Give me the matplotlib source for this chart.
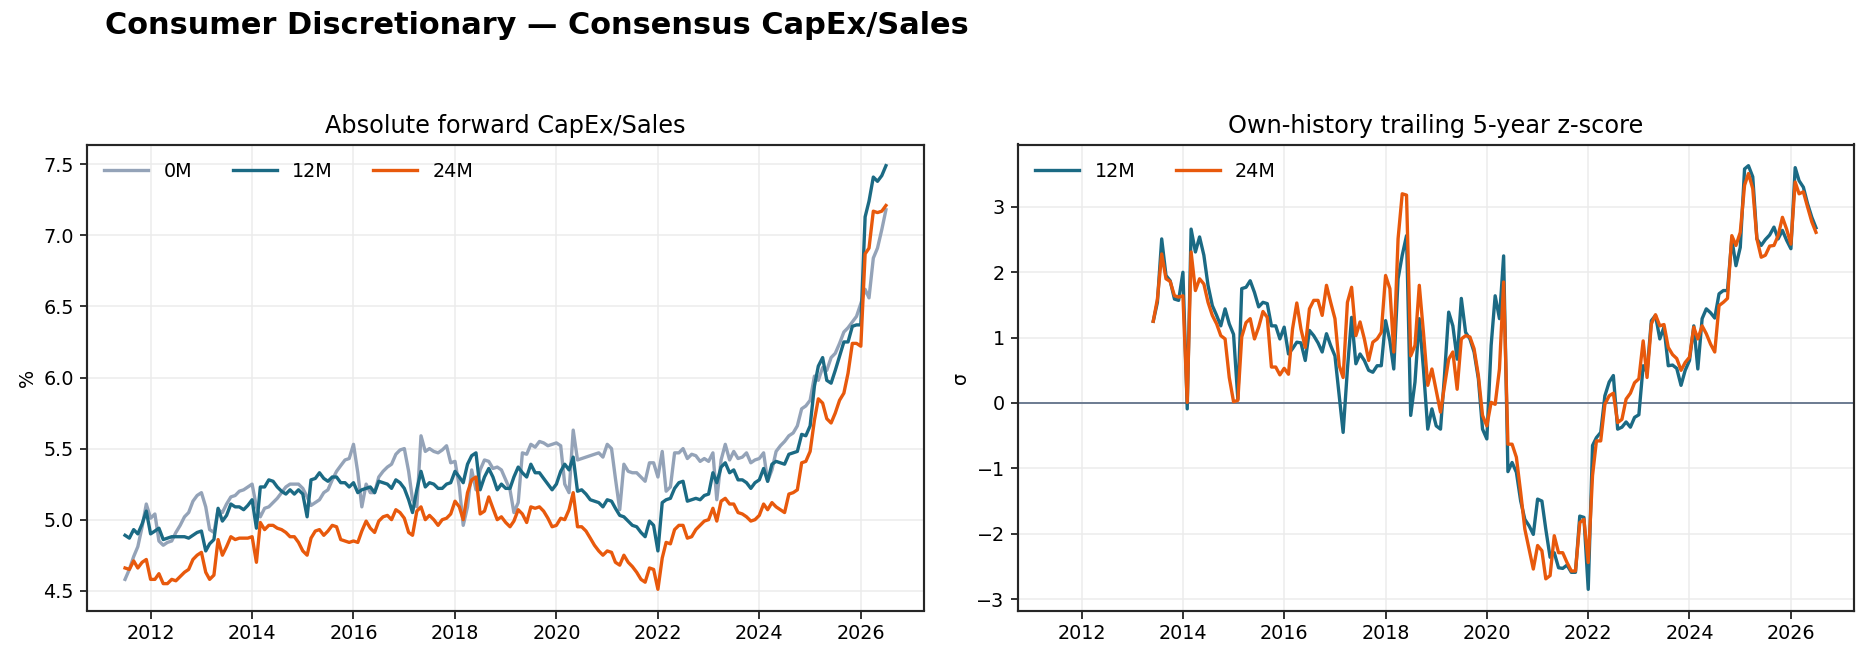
import numpy as np
import pandas as pd
import matplotlib
matplotlib.use("Agg")
import matplotlib.pyplot as plt
import matplotlib.dates as mdates

# ---- data (monthly, Jul 2011 .. Jul 2026) ----
start_month = "2011-07-01"
z_start_month = "2013-06-01"

capex_0m = [
    4.58, 4.65, 4.74, 4.81, 4.95, 5.11, 5.01, 5.04, 4.85, 4.82,
    4.84, 4.85, 4.91, 4.96, 5.02, 5.05, 5.13, 5.17, 5.19, 5.09,
    4.93, 4.91, 5.07, 5.05, 5.11, 5.16, 5.17, 5.20, 5.21, 5.23,
    5.25, 5.09, 5.02, 5.08, 5.09, 5.12, 5.15, 5.19, 5.23, 5.25,
    5.25, 5.25, 5.22, 5.16, 5.10, 5.12, 5.14, 5.19, 5.21, 5.28,
    5.34, 5.38, 5.42, 5.43, 5.53, 5.33, 5.09, 5.25, 5.19, 5.19,
    5.30, 5.34, 5.37, 5.39, 5.46, 5.49, 5.50, 5.34, 5.14, 5.09,
    5.59, 5.48, 5.50, 5.48, 5.47, 5.49, 5.52, 5.40, 5.41, 5.23,
    4.96, 5.09, 5.35, 5.21, 5.35, 5.42, 5.41, 5.36, 5.37, 5.35,
    5.28, 5.21, 5.05, 5.12, 5.47, 5.46, 5.53, 5.51, 5.55, 5.54,
    5.52, 5.53, 5.54, 5.52, 5.25, 5.19, 5.63, 5.42, 5.43, 5.44,
    5.45, 5.46, 5.47, 5.44, 5.53, 5.50, 5.29, 5.07, 5.39, 5.34,
    5.33, 5.33, 5.30, 5.27, 5.40, 5.40, 5.30, 5.48, 5.20, 5.23,
    5.47, 5.47, 5.50, 5.43, 5.46, 5.45, 5.41, 5.43, 5.41, 5.47,
    5.14, 5.42, 5.53, 5.42, 5.48, 5.43, 5.44, 5.47, 5.40, 5.42,
    5.43, 5.47, 5.27, 5.35, 5.48, 5.52, 5.55, 5.59, 5.61, 5.66,
    5.78, 5.80, 5.84, 6.01, 5.98, 6.07, 6.05, 6.14, 6.17, 6.24,
    6.32, 6.35, 6.39, 6.43, 6.52, 6.62, 6.56, 6.84, 6.91, 7.04,
    7.18,
]

capex_12m = [
    4.89, 4.87, 4.93, 4.90, 4.97, 5.06, 4.90, 4.92, 4.94, 4.86,
    4.87, 4.88, 4.88, 4.88, 4.88, 4.87, 4.89, 4.91, 4.92, 4.78,
    4.83, 4.86, 5.08, 4.99, 5.03, 5.11, 5.09, 5.09, 5.07, 5.10,
    5.14, 4.94, 5.23, 5.23, 5.28, 5.27, 5.23, 5.20, 5.18, 5.21,
    5.18, 5.21, 5.18, 5.02, 5.28, 5.29, 5.33, 5.29, 5.27, 5.30,
    5.30, 5.26, 5.26, 5.23, 5.26, 5.19, 5.21, 5.22, 5.23, 5.19,
    5.27, 5.26, 5.25, 5.22, 5.28, 5.26, 5.22, 5.14, 5.05, 5.21,
    5.34, 5.23, 5.26, 5.25, 5.22, 5.22, 5.25, 5.26, 5.34, 5.30,
    5.26, 5.39, 5.45, 5.47, 5.21, 5.30, 5.36, 5.30, 5.21, 5.25,
    5.22, 5.22, 5.30, 5.37, 5.33, 5.30, 5.39, 5.33, 5.33, 5.29,
    5.25, 5.21, 5.25, 5.34, 5.39, 5.35, 5.44, 5.20, 5.21, 5.18,
    5.14, 5.13, 5.12, 5.09, 5.14, 5.13, 5.08, 5.03, 5.02, 4.99,
    4.96, 4.95, 4.91, 4.88, 4.99, 4.96, 4.78, 5.12, 5.14, 5.15,
    5.22, 5.26, 5.27, 5.13, 5.14, 5.15, 5.14, 5.17, 5.18, 5.33,
    5.26, 5.37, 5.40, 5.33, 5.35, 5.28, 5.28, 5.26, 5.22, 5.26,
    5.28, 5.36, 5.27, 5.39, 5.41, 5.40, 5.39, 5.46, 5.47, 5.48,
    5.60, 5.59, 5.66, 5.94, 6.08, 6.14, 5.98, 5.96, 6.05, 6.15,
    6.25, 6.25, 6.36, 6.37, 6.37, 7.13, 7.24, 7.41, 7.38, 7.42,
    7.49,
]

capex_24m = [
    4.66, 4.65, 4.71, 4.66, 4.70, 4.72, 4.58, 4.58, 4.62, 4.55,
    4.55, 4.58, 4.57, 4.60, 4.63, 4.65, 4.72, 4.75, 4.77, 4.63,
    4.58, 4.61, 4.86, 4.75, 4.81, 4.88, 4.86, 4.87, 4.87, 4.87,
    4.88, 4.70, 4.98, 4.93, 4.96, 4.96, 4.94, 4.93, 4.91, 4.88,
    4.88, 4.84, 4.78, 4.75, 4.87, 4.92, 4.93, 4.89, 4.92, 4.96,
    4.95, 4.86, 4.85, 4.84, 4.85, 4.84, 4.92, 4.99, 4.94, 4.91,
    4.99, 5.02, 5.03, 5.00, 5.07, 5.05, 5.01, 4.91, 4.89, 5.06,
    5.09, 5.00, 5.03, 5.00, 4.96, 5.00, 5.01, 5.04, 5.13, 5.09,
    5.00, 5.19, 5.28, 5.30, 5.04, 5.06, 5.16, 5.08, 5.00, 5.02,
    4.98, 4.95, 4.99, 5.07, 5.04, 4.98, 5.09, 5.08, 5.09, 5.06,
    5.01, 4.95, 4.96, 5.01, 5.00, 5.07, 5.19, 4.95, 4.95, 4.92,
    4.87, 4.82, 4.78, 4.75, 4.78, 4.77, 4.70, 4.68, 4.75, 4.70,
    4.67, 4.63, 4.58, 4.56, 4.66, 4.65, 4.51, 4.73, 4.84, 4.83,
    4.93, 4.96, 4.96, 4.87, 4.88, 4.93, 4.96, 4.99, 5.00, 5.08,
    4.99, 5.13, 5.15, 5.11, 5.11, 5.05, 5.04, 5.02, 4.99, 5.00,
    5.03, 5.11, 5.07, 5.12, 5.09, 5.07, 5.05, 5.18, 5.19, 5.21,
    5.40, 5.41, 5.48, 5.70, 5.85, 5.82, 5.71, 5.68, 5.75, 5.84,
    5.89, 6.03, 6.24, 6.24, 6.22, 6.87, 6.91, 7.17, 7.16, 7.17,
    7.21,
]

z_12m = [
    1.25, 1.54, 2.51, 1.95, 1.87, 1.59, 1.57, 2.00, -0.09, 2.66,
    2.31, 2.54, 2.26, 1.80, 1.49, 1.34, 1.18, 1.44, 1.21, 1.05,
    0.06, 1.75, 1.77, 1.87, 1.69, 1.47, 1.54, 1.52, 1.18, 1.18,
    0.98, 1.16, 0.75, 0.83, 0.93, 0.92, 0.65, 1.11, 1.03, 0.92,
    0.78, 1.06, 0.88, 0.72, 0.11, -0.45, 0.52, 1.31, 0.60, 0.75,
    0.65, 0.50, 0.47, 0.57, 0.57, 1.26, 0.95, 0.52, 1.90, 2.26,
    2.56, -0.19, 0.32, 1.29, 0.52, -0.40, -0.09, -0.35, -0.40, 0.40,
    1.39, 1.18, 0.67, 1.60, 1.08, 0.98, 0.78, 0.37, -0.40, -0.55,
    0.88, 1.64, 1.29, 2.25, -1.05, -0.91, -1.06, -1.50, -1.78, -1.88,
    -2.01, -1.47, -1.50, -1.93, -2.36, -2.29, -2.52, -2.53, -2.48, -2.59,
    -2.59, -1.73, -1.75, -2.85, -0.65, -0.53, -0.45, 0.11, 0.32, 0.42,
    -0.40, -0.37, -0.29, -0.37, -0.22, -0.18, 0.57, 0.47, 1.26, 1.34,
    0.98, 1.16, 0.57, 0.58, 0.53, 0.27, 0.50, 0.65, 1.18, 0.52,
    1.29, 1.44, 1.38, 1.30, 1.67, 1.72, 1.72, 2.51, 2.10, 2.38,
    3.58, 3.63, 3.46, 2.51, 2.41, 2.50, 2.57, 2.69, 2.51, 2.64,
    2.49, 2.36, 3.60, 3.40, 3.30, 3.05, 2.84, 2.68,
]

z_24m = [
    1.25, 1.59, 2.28, 1.90, 1.86, 1.64, 1.62, 1.64, 0.01, 2.31,
    1.72, 1.90, 1.82, 1.54, 1.34, 1.21, 1.03, 0.98, 0.39, 0.02,
    0.04, 1.01, 1.23, 1.29, 0.98, 1.16, 1.40, 1.31, 0.55, 0.55,
    0.43, 0.53, 0.44, 1.13, 1.53, 1.13, 0.85, 1.44, 1.57, 1.57,
    1.34, 1.80, 1.54, 1.29, 0.57, 0.39, 1.54, 1.77, 1.03, 1.24,
    0.98, 0.65, 0.93, 0.98, 1.08, 1.95, 1.75, 0.78, 2.51, 3.20,
    3.18, 0.72, 0.88, 1.80, 1.08, 0.27, 0.52, 0.19, -0.14, 0.25,
    0.67, 0.78, 0.21, 0.98, 1.03, 1.01, 0.83, 0.42, -0.19, -0.35,
    0.01, -0.02, 0.52, 1.85, -0.63, -0.63, -0.83, -1.37, -1.93, -2.24,
    -2.54, -2.18, -2.26, -2.69, -2.64, -2.03, -2.29, -2.29, -2.44, -2.57,
    -2.57, -1.83, -1.78, -2.44, -1.11, -0.58, -0.58, -0.02, 0.11, 0.15,
    -0.30, -0.25, 0.06, 0.15, 0.31, 0.37, 0.95, 0.39, 1.21, 1.35,
    1.18, 1.20, 0.85, 0.74, 0.68, 0.50, 0.62, 0.70, 1.16, 0.98,
    1.18, 1.06, 0.90, 0.78, 1.49, 1.54, 1.60, 2.56, 2.41, 2.61,
    3.33, 3.51, 3.28, 2.51, 2.23, 2.26, 2.40, 2.41, 2.56, 2.84,
    2.66, 2.43, 3.38, 3.20, 3.23, 3.00, 2.77, 2.61,
]

title = "Consumer Discretionary \u2014 Consensus CapEx/Sales"
left_title = "Absolute forward CapEx/Sales"
right_title = "Own-history trailing 5-year z-score"

# ---- styling ----
C0 = "#94a3b8"
C12 = "#1b6a84"
C24 = "#e8590c"
ZERO = "#64748b"

plt.rcParams["font.family"] = ["DejaVu Sans"]
FS = 11.5

dates = pd.date_range(start_month, periods=len(capex_0m), freq="MS")
zdates = pd.date_range(z_start_month, periods=len(z_12m), freq="MS")

W, H, DPI = 1869, 659, 120
fig = plt.figure(figsize=(W / DPI, H / DPI), dpi=DPI)

axL = fig.add_axes([87 / W, 1 - 610.5 / H, (924 - 87) / W, (610.5 - 144.5) / H])
axR = fig.add_axes([1018 / W, 1 - 610.5 / H, (1854 - 1018) / W, (610.5 - 144.5) / H],
                   sharex=axL)

lw = 2.0
axL.plot(dates, capex_0m, color=C0, lw=lw, label="0M")
axL.plot(dates, capex_12m, color=C12, lw=lw, label="12M")
axL.plot(dates, capex_24m, color=C24, lw=lw, label="24M")
axL.set_title(left_title, fontsize=14.4, pad=7)
axL.set_ylabel("%", fontsize=FS)
axL.set_yticks([4.5, 5.0, 5.5, 6.0, 6.5, 7.0, 7.5])

axR.axhline(0, color=ZERO, lw=1.1, zorder=1)
axR.plot(zdates, z_12m, color=C12, lw=lw, label="12M", zorder=3)
axR.plot(zdates, z_24m, color=C24, lw=lw, label="24M", zorder=3)
axR.set_title(right_title, fontsize=14.4, pad=7)
axR.set_ylabel("\u03c3", fontsize=FS)
axR.set_yticks([-3, -2, -1, 0, 1, 2, 3])

for ax, nc in ((axL, 3), (axR, 2)):
    ax.grid(True, color="#ececec", lw=0.9)
    ax.set_axisbelow(True)
    for s in ax.spines.values():
        s.set_color("#262626")
        s.set_linewidth(1.3)
    ax.tick_params(colors="#262626", labelcolor="black", width=1.1, length=4.5,
                   labelsize=FS)
    ax.xaxis.set_major_locator(mdates.YearLocator(2))
    ax.xaxis.set_major_formatter(mdates.DateFormatter("%Y"))
    ax.legend(loc="upper left", ncol=nc, frameon=False, handlelength=2.3,
              handletextpad=0.8, columnspacing=2.1, fontsize=FS)

axR.tick_params(labelbottom=True)

fig.text(105 / W, 1 - 26 / H, title, fontsize=18.2, fontweight="bold",
         ha="left", va="center")

fig.savefig("out.png", dpi=DPI)
